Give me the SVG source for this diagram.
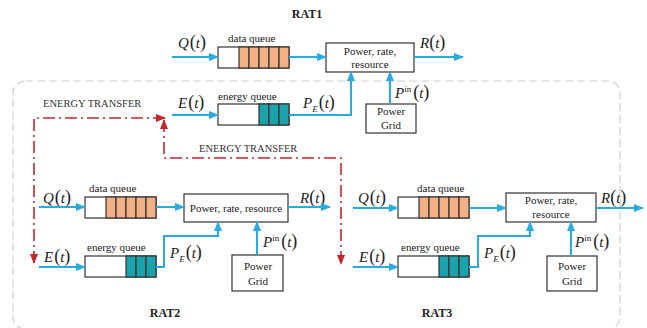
<svg xmlns="http://www.w3.org/2000/svg" width="647" height="328" viewBox="0 0 647 328">
<defs>
<marker id="ab" viewBox="0 0 10 8" refX="9" refY="4" markerWidth="10" markerHeight="8" markerUnits="userSpaceOnUse" orient="auto"><path d="M0,0 L10,4 L0,8 Z" fill="#29abe2"/></marker>
<marker id="ar" viewBox="0 0 10 8" refX="9" refY="4" markerWidth="10" markerHeight="8" markerUnits="userSpaceOnUse" orient="auto-start-reverse"><path d="M0,0 L10,4 L0,8 Z" fill="#c1272d"/></marker>
<style>
.bl{fill:none;stroke:#29abe2;stroke-width:2;marker-end:url(#ab)}
.bp{fill:none;stroke:#29abe2;stroke-width:2}
.rd{fill:none;stroke:#c1272d;stroke-width:1.6;stroke-dasharray:12 4 2 4;marker-start:url(#ar);marker-end:url(#ar)}
.bx{fill:#fff;stroke:#333;stroke-width:1.2}
.or{fill:#f2b084;stroke:#333;stroke-width:1.2}
.te{fill:#1aa3ad;stroke:#333;stroke-width:1.2}
.t{font-family:"Liberation Serif","Times New Roman",serif;font-size:11px;fill:#222}
.c{text-anchor:middle}
.b{font-weight:bold;font-size:12px}
.m{font-family:"Liberation Serif","Times New Roman",serif;font-size:15px;fill:#222}
.i{font-style:italic}
.p{font-size:18px}
.s{font-size:9px}
.et{font-family:"Liberation Serif","Times New Roman",serif;font-size:10.5px;fill:#333}
</style>
</defs>
<rect x="13" y="81" width="607" height="248" rx="12" fill="none" stroke="#cfcfcf" stroke-width="1.2" stroke-dasharray="8 4"/>

<g id="rat1">
<text class="t b c" x="307" y="18">RAT1</text>
<g id="rat1-data-queue">
<text class="t" x="228" y="42">data queue</text>
<rect class="bx" x="218" y="47" width="71" height="21"/>
<rect class="or" x="239" y="47" width="10" height="21"/><rect class="or" x="249" y="47" width="10" height="21"/><rect class="or" x="259" y="47" width="10" height="21"/><rect class="or" x="269" y="47" width="10" height="21"/><rect class="or" x="279" y="47" width="10" height="21"/>
</g>
<g id="rat1-energy-queue">
<text class="t" x="218" y="100">energy queue</text>
<rect class="bx" x="218" y="104" width="71" height="21"/>
<rect class="te" x="259" y="104" width="10" height="21"/><rect class="te" x="269" y="104" width="10" height="21"/><rect class="te" x="279" y="104" width="10" height="21"/>
</g>
<g id="rat1-power">
<rect class="bx" x="326" y="43" width="88" height="29"/>
<text class="t c" x="370" y="55">Power, rate,</text>
<text class="t c" x="370" y="68">resource</text>
</g>
<g id="rat1-grid">
<rect class="bx" x="366" y="104" width="50" height="29"/>
<text class="t c" x="391" y="115">Power</text>
<text class="t c" x="391" y="129">Grid</text>
</g>
<text class="m" x="178" y="48"><tspan class="i">Q</tspan><tspan class="p" dx="1">(</tspan><tspan class="i">t</tspan><tspan class="p">)</tspan></text>
<text class="m" x="178" y="108"><tspan class="i">E</tspan><tspan class="p" dx="1">(</tspan><tspan class="i">t</tspan><tspan class="p">)</tspan></text>
<text class="m" x="303" y="108"><tspan class="i">P</tspan><tspan class="s i" dy="4">E</tspan><tspan class="p" dy="-4" dx="1">(</tspan><tspan class="i">t</tspan><tspan class="p">)</tspan></text>
<text class="m" x="420" y="48"><tspan class="i">R</tspan><tspan class="p">(</tspan><tspan class="i">t</tspan><tspan class="p">)</tspan></text>
<text class="m" x="395" y="98"><tspan class="i">P</tspan><tspan class="s" dy="-6">in</tspan><tspan class="p" dy="6" dx="2">(</tspan><tspan class="i">t</tspan><tspan class="p">)</tspan></text>
</g>

<g id="rat2">
<text class="t b c" x="165" y="317">RAT2</text>
<g id="rat2-data-queue">
<text class="t" x="89" y="192">data queue</text>
<rect class="bx" x="85" y="197" width="71" height="21"/>
<rect class="or" x="106" y="197" width="10" height="21"/><rect class="or" x="116" y="197" width="10" height="21"/><rect class="or" x="126" y="197" width="10" height="21"/><rect class="or" x="136" y="197" width="10" height="21"/><rect class="or" x="146" y="197" width="10" height="21"/>
</g>
<g id="rat2-energy-queue">
<text class="t" x="87" y="251">energy queue</text>
<rect class="bx" x="85" y="256" width="71" height="21"/>
<rect class="te" x="126" y="256" width="10" height="21"/><rect class="te" x="136" y="256" width="10" height="21"/><rect class="te" x="146" y="256" width="10" height="21"/>
</g>
<g id="rat2-power">
<rect class="bx" x="184" y="194" width="104" height="28"/>
<text class="t c" x="236" y="212">Power, rate,  resource</text>
</g>
<g id="rat2-grid">
<rect class="bx" x="232" y="255" width="51" height="36"/>
<text class="t c" x="258" y="270">Power</text>
<text class="t c" x="258" y="285">Grid</text>
</g>
<text class="m" x="43" y="203"><tspan class="i">Q</tspan><tspan class="p" dx="1">(</tspan><tspan class="i">t</tspan><tspan class="p">)</tspan></text>
<text class="m" x="44" y="262"><tspan class="i">E</tspan><tspan class="p" dx="1">(</tspan><tspan class="i">t</tspan><tspan class="p">)</tspan></text>
<text class="m" x="170" y="258"><tspan class="i">P</tspan><tspan class="s i" dy="4">E</tspan><tspan class="p" dy="-4" dx="1">(</tspan><tspan class="i">t</tspan><tspan class="p">)</tspan></text>
<text class="m" x="300" y="203"><tspan class="i">R</tspan><tspan class="p">(</tspan><tspan class="i">t</tspan><tspan class="p">)</tspan></text>
<text class="m" x="263" y="247"><tspan class="i">P</tspan><tspan class="s" dy="-6">in</tspan><tspan class="p" dy="6" dx="2">(</tspan><tspan class="i">t</tspan><tspan class="p">)</tspan></text>
</g>

<g id="rat3">
<text class="t b c" x="437" y="317">RAT3</text>
<g id="rat3-data-queue">
<text class="t" x="417" y="192">data queue</text>
<rect class="bx" x="398" y="197" width="71" height="21"/>
<rect class="or" x="419" y="197" width="10" height="21"/><rect class="or" x="429" y="197" width="10" height="21"/><rect class="or" x="439" y="197" width="10" height="21"/><rect class="or" x="449" y="197" width="10" height="21"/><rect class="or" x="459" y="197" width="10" height="21"/>
</g>
<g id="rat3-energy-queue">
<text class="t" x="401" y="251">energy queue</text>
<rect class="bx" x="398" y="256" width="71" height="21"/>
<rect class="te" x="439" y="256" width="10" height="21"/><rect class="te" x="449" y="256" width="10" height="21"/><rect class="te" x="459" y="256" width="10" height="21"/>
</g>
<g id="rat3-power">
<rect class="bx" x="506" y="193" width="90" height="29"/>
<text class="t c" x="551" y="204">Power, rate,</text>
<text class="t c" x="551" y="218">resource</text>
</g>
<g id="rat3-grid">
<rect class="bx" x="547" y="256" width="50" height="35"/>
<text class="t c" x="572" y="270">Power</text>
<text class="t c" x="572" y="285">Grid</text>
</g>
<text class="m" x="358" y="203"><tspan class="i">Q</tspan><tspan class="p" dx="1">(</tspan><tspan class="i">t</tspan><tspan class="p">)</tspan></text>
<text class="m" x="359" y="262"><tspan class="i">E</tspan><tspan class="p" dx="1">(</tspan><tspan class="i">t</tspan><tspan class="p">)</tspan></text>
<text class="m" x="484" y="258"><tspan class="i">P</tspan><tspan class="s i" dy="4">E</tspan><tspan class="p" dy="-4" dx="1">(</tspan><tspan class="i">t</tspan><tspan class="p">)</tspan></text>
<text class="m" x="601" y="203"><tspan class="i">R</tspan><tspan class="p">(</tspan><tspan class="i">t</tspan><tspan class="p">)</tspan></text>
<text class="m" x="575" y="247"><tspan class="i">P</tspan><tspan class="s" dy="-6">in</tspan><tspan class="p" dy="6" dx="2">(</tspan><tspan class="i">t</tspan><tspan class="p">)</tspan></text>
</g>

<g id="energy-transfer">
<text class="et" x="43" y="107">ENERGY TRANSFER</text>
<text class="et" x="199" y="152">ENERGY TRANSFER</text>
</g>

<g id="connectors">
<path class="bl" d="M172,57 H218"/>
<path class="bl" d="M289,57 H326"/>
<path class="bl" d="M414,57 H463"/>
<path class="bl" d="M172,115 H218"/>
<path class="bl" d="M289,115 H351 V72"/>
<path class="bl" d="M390,104 V72"/>

<path class="bl" d="M39,207 H85"/>
<path class="bl" d="M156,207 H184"/>
<path class="bl" d="M288,207 H330"/>
<path class="bl" d="M39,267 H85"/>
<path class="bl" d="M156,267 H164 V236 H218 V222"/>
<path class="bl" d="M257,255 V222"/>

<path class="bl" d="M353,208 H398"/>
<path class="bl" d="M469,208 H506"/>
<path class="bl" d="M596,208 H643"/>
<path class="bl" d="M353,267 H398"/>
<path class="bl" d="M469,267 H478 V236 H530 V222"/>
<path class="bl" d="M571,256 V222"/>

<path class="rd" d="M34,263 V118 H165"/>
<path class="rd" d="M164,120 V158 H341 V264"/>
</g>
</svg>
